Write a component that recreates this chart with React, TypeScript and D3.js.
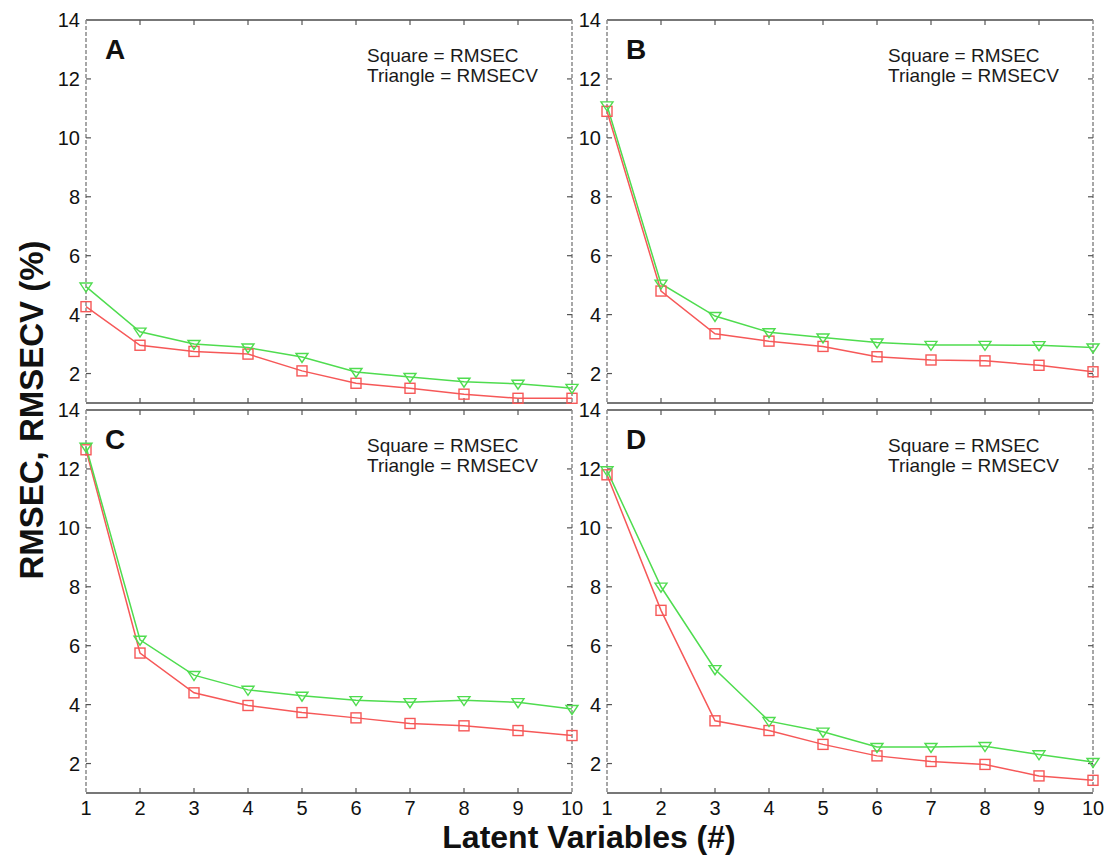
import React from 'react';
import * as d3 from 'd3';

const latentVariables = [1, 2, 3, 4, 5, 6, 7, 8, 9, 10];
const yTickValues = [2, 4, 6, 8, 10, 12, 14];
const panelLetters = ['A', 'B', 'C', 'D'];
const rmsecA = [4.27, 2.96, 2.75, 2.66, 2.09, 1.67, 1.5, 1.3, 1.16, 1.16];
const rmsecvA = [4.95, 3.42, 3.0, 2.88, 2.56, 2.05, 1.88, 1.72, 1.65, 1.51];
const rmsecB = [10.9, 4.8, 3.35, 3.1, 2.92, 2.57, 2.46, 2.43, 2.28, 2.06];
const rmsecvB = [11.1, 5.05, 3.95, 3.4, 3.22, 3.05, 2.97, 2.97, 2.96, 2.88];
const rmsecC = [12.65, 5.75, 4.4, 3.97, 3.73, 3.55, 3.36, 3.28, 3.12, 2.95];
const rmsecvC = [12.75, 6.2, 5.0, 4.5, 4.3, 4.15, 4.08, 4.15, 4.08, 3.85];
const rmsecD = [11.8, 7.2, 3.45, 3.12, 2.65, 2.26, 2.07, 1.97, 1.58, 1.43];
const rmsecvD = [11.95, 8.0, 5.2, 3.44, 3.08, 2.56, 2.56, 2.59, 2.31, 2.05];
const legendLines = ['Square = RMSEC', 'Triangle = RMSECV'];
const xAxisTitle = 'Latent Variables (#)';
const yAxisTitle = 'RMSEC, RMSECV (%)';

const rmsecSeries = [rmsecA, rmsecB, rmsecC, rmsecD];
const rmsecvSeries = [rmsecvA, rmsecvB, rmsecvC, rmsecvD];

const W = 1105;
const H = 858;
const panelLefts = [86, 607];
const panelTops = [20, 410];
const panelW = 486;
const panelH = 383;
const RED = '#f65858';
const GREEN = '#4fdc4f';
const FONT = 'Arial, "Liberation Sans", Helvetica, sans-serif';

function Panel({ idx }: { idx: number }) {
  const col = idx % 2;
  const row = Math.floor(idx / 2);
  const left = panelLefts[col];
  const top = panelTops[row];
  const x = d3.scaleLinear().domain([1, 10]).range([left, left + panelW]);
  const y = d3.scaleLinear().domain([1, 14]).range([top + panelH, top]);
  const line = d3
    .line<number>()
    .x((_, i) => x(latentVariables[i]))
    .y((d) => y(d));
  const red = rmsecSeries[idx];
  const green = rmsecvSeries[idx];
  const tl = 5;
  const sq = 10;
  const tri = 6;
  const triPath = (cx: number, cy: number) =>
    `M${cx - tri},${cy - tri * 0.6} L${cx + tri},${cy - tri * 0.6} L${cx},${cy + tri * 0.9} Z`;
  const x0 = x(1);
  const x1 = x(10);
  const y0 = y(1);
  const y1 = y(14);
  return (
    <g>
      {/* frame */}
      <line x1={x0} x2={x1} y1={y1} y2={y1} stroke="#777" strokeWidth={1.8} />
      <line x1={x0} x2={x1} y1={y0} y2={y0} stroke="#777" strokeWidth={1.8} />
      <line x1={x0} x2={x0} y1={y1} y2={y0} stroke="#8a8a8a" strokeWidth={1.5} strokeDasharray="4,2" />
      <line x1={x1} x2={x1} y1={y1} y2={y0} stroke="#8a8a8a" strokeWidth={1.5} strokeDasharray="4,2" />
      {/* x ticks */}
      {latentVariables.slice(1, -1).map((v) => (
        <g key={'xt' + v}>
          <line x1={x(v)} x2={x(v)} y1={y1} y2={y1 + tl} stroke="#555" strokeWidth={1.2} />
          <line x1={x(v)} x2={x(v)} y1={y0} y2={y0 - tl} stroke="#555" strokeWidth={1.2} />
        </g>
      ))}
      {/* y ticks */}
      {yTickValues.slice(0, -1).map((v) => (
        <g key={'yt' + v}>
          <line x1={x0} x2={x0 + tl} y1={y(v)} y2={y(v)} stroke="#555" strokeWidth={1.2} />
          <line x1={x1} x2={x1 - tl} y1={y(v)} y2={y(v)} stroke="#555" strokeWidth={1.2} />
        </g>
      ))}
      {/* y tick labels */}
      {yTickValues.map((v) => (
        <text
          key={'yl' + v}
          x={x0 - 6}
          y={y(v)}
          dy="0.36em"
          textAnchor="end"
          fontFamily={FONT}
          fontSize={20}
          fill="#111"
        >
          {v}
        </text>
      ))}
      {/* x tick labels (bottom row) */}
      {row === 1 &&
        latentVariables.map((v) => (
          <text
            key={'xl' + v}
            x={x(v)}
            y={y0 + 22}
            textAnchor="middle"
            fontFamily={FONT}
            fontSize={20}
            fill="#111"
          >
            {v}
          </text>
        ))}
      {/* panel letter */}
      <text x={x0 + 19} y={y1 + 39} fontFamily={FONT} fontWeight="bold" fontSize={28} fill="#111">
        {panelLetters[idx]}
      </text>
      {/* legend text */}
      {legendLines.map((t, i) => (
        <text
          key={'lg' + i}
          x={x0 + 281}
          y={y1 + 41.5 + i * 20}
          fontFamily={FONT}
          fontSize={19}
          fill="#1a1a1a"
        >
          {t}
        </text>
      ))}
      {/* series */}
      <path d={line(red) || ''} fill="none" stroke={RED} strokeWidth={1.5} />
      <path d={line(green) || ''} fill="none" stroke={GREEN} strokeWidth={1.5} />
      {red.map((v, i) => (
        <rect
          key={'sq' + i}
          x={x(latentVariables[i]) - sq / 2}
          y={y(v) - sq / 2}
          width={sq}
          height={sq}
          fill="none"
          stroke={RED}
          strokeWidth={1.4}
        />
      ))}
      {green.map((v, i) => (
        <path
          key={'tr' + i}
          d={triPath(x(latentVariables[i]), y(v))}
          fill="none"
          stroke={GREEN}
          strokeWidth={1.4}
        />
      ))}
    </g>
  );
}

export default function App() {
  return (
    <svg
      width={W}
      height={H}
      viewBox={`0 0 ${W} ${H}`}
      style={{ position: 'absolute', left: 0, top: 0, background: '#fff' }}
    >
      <rect x={0} y={0} width={W} height={H} fill="#fff" />
      {panelLetters.map((_, i) => (
        <Panel key={i} idx={i} />
      ))}
      <text
        x={589}
        y={848}
        textAnchor="middle"
        fontFamily={FONT}
        fontWeight="bold"
        fontSize={32}
        fill="#111"
      >
        {xAxisTitle}
      </text>
      <text
        transform="translate(43,410) rotate(-90)"
        textAnchor="middle"
        fontFamily={FONT}
        fontWeight="bold"
        fontSize={33}
        fill="#111"
      >
        {yAxisTitle}
      </text>
    </svg>
  );
}
